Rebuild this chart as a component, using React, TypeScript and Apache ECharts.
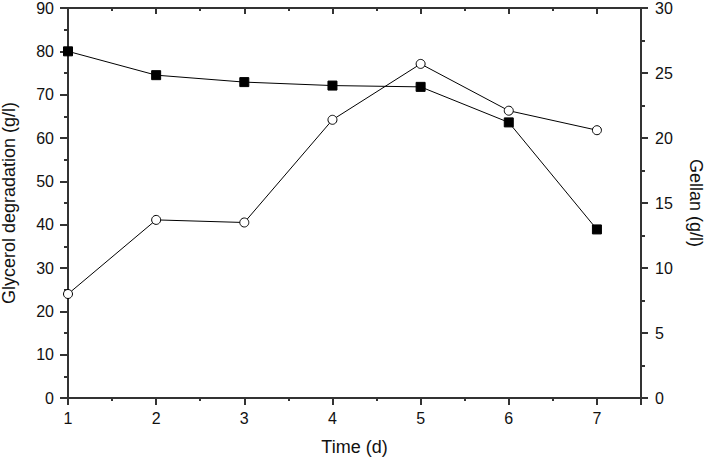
import React, { useEffect, useRef } from "react";
import * as echarts from "echarts";

const days = [1, 2, 3, 4, 5, 6, 7];
const glycerol = [80.0, 74.5, 72.9, 72.1, 71.8, 63.6, 38.9];
const gellan = [8.0, 13.7, 13.5, 21.4, 25.7, 22.1, 20.6];

const FONT = "Liberation Sans";
const AXIS_COLOR = "#333";
const TEXT_COLOR = "#111";

export default function App() {
  const ref = useRef<HTMLDivElement>(null);
  useEffect(() => {
    if (!ref.current) return;
    const chart = echarts.init(ref.current, null, { renderer: "svg" });
    const lineStyle = { color: AXIS_COLOR, width: 2 };
    const labelStyle = { fontFamily: FONT, fontSize: 16, color: TEXT_COLOR };
    const nameStyle = { fontFamily: FONT, fontSize: 18, color: TEXT_COLOR };
    const xBase = {
      type: "value" as const,
      min: 1,
      max: 7.5,
      splitLine: { show: false },
      axisLine: { show: true, onZero: false, lineStyle },
    };
    chart.setOption({
      animation: false,
      backgroundColor: "#fff",
      grid: {
        left: 68,
        right: 65,
        top: 8,
        bottom: 59,
        containLabel: false,
        outerBoundsMode: "none",
      },
      xAxis: [
        {
          ...xBase,
          position: "bottom",
          interval: 1,
          name: "Time (d)",
          nameLocation: "middle",
          nameGap: 40,
          nameTextStyle: nameStyle,
          axisTick: { show: true, inside: false, length: 7, lineStyle },
          axisLabel: {
            show: true,
            margin: 12,
            ...labelStyle,
            formatter: (v: number) => (Number.isInteger(v) ? String(v) : ""),
          },
        },
        {
          ...xBase,
          position: "bottom",
          interval: 0.5,
          axisTick: { show: true, inside: false, length: 3, lineStyle },
          axisLabel: { show: false },
        },
        {
          ...xBase,
          position: "top",
          interval: 1,
          axisTick: { show: true, inside: true, length: 6, lineStyle },
          axisLabel: { show: false },
        },
        {
          ...xBase,
          position: "top",
          interval: 0.5,
          axisTick: { show: true, inside: true, length: 3, lineStyle },
          axisLabel: { show: false },
        },
      ],
      yAxis: [
        {
          type: "value",
          position: "left",
          min: 0,
          max: 90,
          interval: 10,
          name: "Glycerol degradation (g/l)",
          nameLocation: "middle",
          nameGap: 50,
          nameTextStyle: nameStyle,
          splitLine: { show: false },
          axisLine: { show: true, onZero: false, lineStyle },
          axisTick: { show: true, inside: false, length: 8, lineStyle },
          minorTick: { show: true, splitNumber: 2, length: 4, lineStyle: { color: AXIS_COLOR, width: 2 } },
          axisLabel: { margin: 14, ...labelStyle },
        },
        {
          type: "value",
          position: "right",
          min: 0,
          max: 30,
          interval: 5,
          name: "Gellan (g/l)",
          nameLocation: "middle",
          nameGap: 46,
          nameRotate: -90,
          nameTextStyle: nameStyle,
          splitLine: { show: false },
          axisLine: { show: true, onZero: false, lineStyle },
          axisTick: { show: true, inside: false, length: 7, lineStyle },
          minorTick: { show: true, splitNumber: 2, length: 4, lineStyle: { color: AXIS_COLOR, width: 2 } },
          axisLabel: { margin: 14, ...labelStyle },
        },
      ],
      series: [
        {
          name: "Glycerol",
          type: "line",
          xAxisIndex: 0,
          yAxisIndex: 0,
          data: days.map((d, i) => [d, glycerol[i]]),
          symbol: "rect",
          symbolSize: 9,
          itemStyle: { color: "#000", borderColor: "#000" },
          lineStyle: { color: "#000", width: 1 },
          z: 3,
        },
        {
          name: "Gellan",
          type: "line",
          xAxisIndex: 0,
          yAxisIndex: 1,
          data: days.map((d, i) => [d, gellan[i]]),
          symbol: "circle",
          symbolSize: 9,
          itemStyle: { color: "#fff", borderColor: "#000", borderWidth: 1 },
          lineStyle: { color: "#000", width: 1 },
          z: 4,
        },
      ],
    });
    return () => chart.dispose();
  }, []);
  return (
    <div
      ref={ref}
      style={{ position: "absolute", left: 0, top: 0, width: 706, height: 457 }}
    />
  );
}
